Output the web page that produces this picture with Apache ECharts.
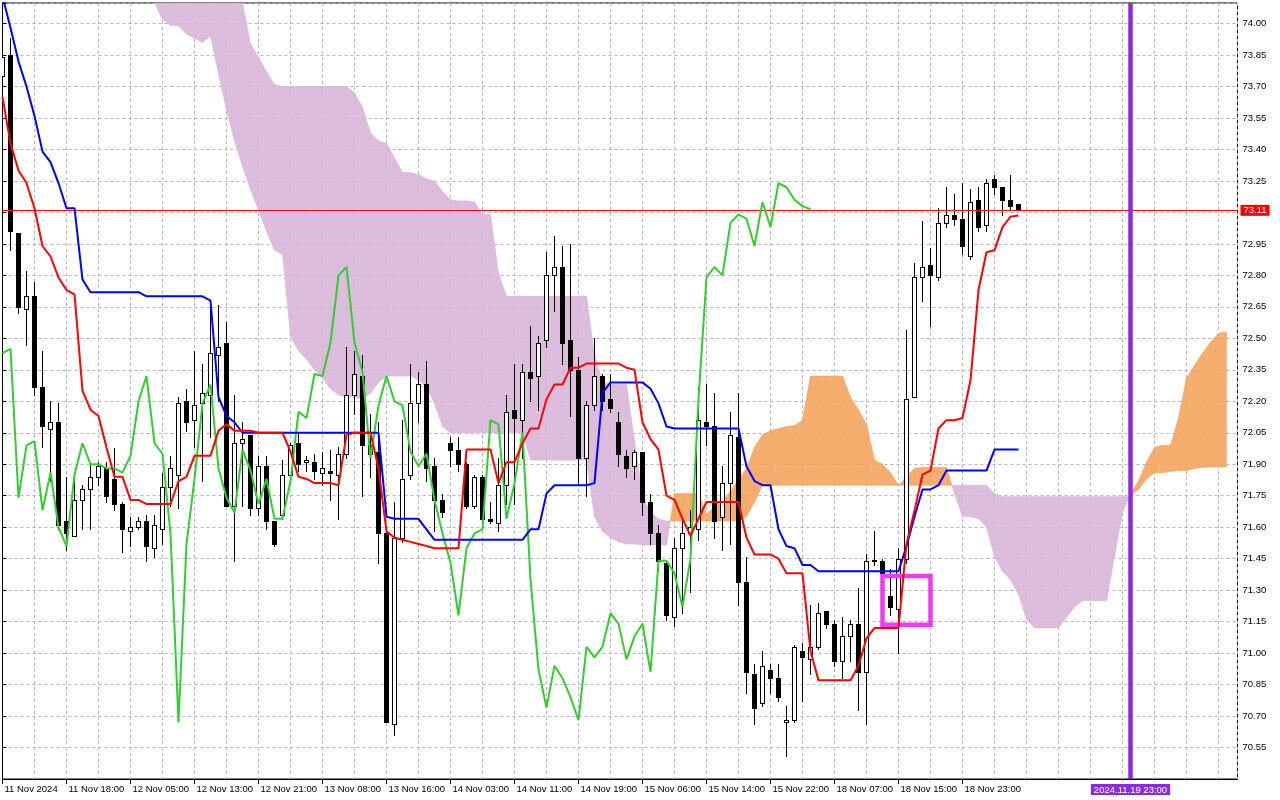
<!DOCTYPE html>
<html><head><meta charset="utf-8">
<script src="https://cdn.jsdelivr.net/npm/echarts@6/dist/echarts.min.js"></script>
<style>html,body{margin:0;padding:0;background:#fff}#c{width:1280px;height:800px}</style>
</head><body><div id="c"></div>
<script>
// ---- x axis labels (every 8 bars) ----
const timeLabels = ["11 Nov 2024","11 Nov 18:00","12 Nov 05:00","12 Nov 13:00","12 Nov 21:00","13 Nov 08:00","13 Nov 16:00","14 Nov 03:00","14 Nov 11:00","14 Nov 19:00","15 Nov 06:00","15 Nov 14:00","15 Nov 22:00","18 Nov 07:00","18 Nov 15:00","18 Nov 23:00"];
const labelStep = 8;
const totalSlots = 154.375;

// ---- candles (H1) ----
const opens = [73.75,73.85,73.00,72.64,72.70,72.27,72.07,72.10,71.63,71.56,
71.73,71.78,71.84,71.88,71.83,71.71,71.58,71.60,71.63,71.50,
71.59,71.79,71.85,72.20,72.11,72.19,72.23,72.42,72.48,71.70,
72.00,72.04,71.69,71.89,71.63,71.66,71.85,72.00,71.91,71.91,
71.86,71.87,71.85,71.95,72.23,72.32,71.99,71.96,71.57,70.66,
71.55,71.85,72.19,72.28,71.89,71.73,72.00,71.97,71.90,71.70,
71.84,71.64,71.62,71.80,72.16,72.11,72.34,72.32,72.49,72.80,
72.84,72.49,72.35,71.93,72.18,72.32,72.21,72.10,71.94,71.89,
71.96,71.72,71.57,71.43,71.17,71.50,71.57,71.59,72.10,72.08,
71.65,71.81,72.03,71.34,70.90,70.76,70.92,70.88,70.67,70.68,
71.01,70.97,71.03,71.20,71.14,70.96,71.08,71.14,70.91,71.44,
71.44,71.27,71.21,71.45,72.22,72.79,72.85,72.79,73.05,73.09,
73.07,72.89,73.16,73.04,73.26,73.22,73.16,73.14];
const highs = [73.90,73.93,73.00,72.82,72.77,72.44,72.20,72.19,71.84,71.86,
71.80,71.91,71.91,71.91,71.975,71.72,71.65,71.65,71.66,71.66,
71.86,71.94,72.22,72.26,72.44,72.38,72.66,72.66,72.58,72.23,
72.10,72.04,71.94,71.94,71.63,71.92,72.00,72.05,71.94,71.95,
71.96,71.97,71.98,72.46,72.44,72.42,72.14,72.10,71.59,71.72,
72.11,72.38,72.34,72.39,71.93,71.76,72.03,72.03,71.91,71.85,
71.85,71.72,71.93,72.23,72.38,72.38,72.56,72.51,72.91,72.99,
72.94,72.95,72.41,72.20,72.50,72.33,72.33,72.15,71.97,71.97,
71.96,71.76,71.61,71.44,71.55,71.64,71.68,72.27,72.28,72.24,
71.89,72.15,72.24,71.46,70.95,71.01,70.95,70.95,70.75,71.04,
71.05,71.23,71.24,71.20,71.16,71.17,71.16,71.31,71.47,71.58,
71.45,71.40,71.50,72.54,72.86,73.06,72.93,73.12,73.22,73.19,
73.24,73.21,73.22,73.26,73.28,73.22,73.28,73.14];
const lows = [73.70,72.92,72.62,72.47,72.23,71.98,71.82,71.59,71.49,71.56,
71.59,71.59,71.80,71.72,71.68,71.48,71.51,71.59,71.44,71.46,
71.52,71.70,71.69,72.06,71.98,71.82,72.03,72.20,71.70,71.44,
71.70,71.66,71.66,71.59,71.51,71.64,71.84,71.87,71.87,71.83,
71.80,71.73,71.64,71.93,72.14,71.75,71.84,71.43,70.67,70.61,
71.53,71.83,72.10,71.82,71.58,71.65,71.89,71.87,71.69,71.69,
71.59,71.62,71.58,71.71,71.71,71.93,72.20,72.16,72.46,72.63,
72.38,72.13,71.80,71.75,72.16,72.16,72.15,71.89,71.84,71.83,
71.66,71.52,71.39,71.16,71.13,71.19,71.29,71.54,71.99,71.55,
71.49,71.52,71.23,70.81,70.66,70.75,70.81,70.77,70.51,70.67,
70.77,70.90,71.02,71.12,70.94,70.88,70.96,70.73,70.66,71.42,
71.37,71.18,71.00,71.43,72.22,72.68,72.56,72.78,73.03,73.04,
72.90,72.88,73.01,73.01,73.19,73.09,73.11,73.11];
const closes = [73.84,73.01,72.65,72.70,72.27,72.08,72.10,71.61,71.57,71.73,
71.78,71.84,71.89,71.75,71.71,71.59,71.60,71.63,71.51,71.61,
71.79,71.88,72.19,72.10,72.18,72.24,72.43,72.46,71.70,72.00,
72.02,71.69,71.89,71.63,71.52,71.85,71.99,71.90,71.92,71.87,
71.88,71.86,71.95,72.23,72.33,71.99,71.95,71.57,70.67,71.55,
71.83,72.19,72.28,71.88,71.73,71.67,71.97,71.90,71.70,71.84,
71.64,71.63,71.80,72.15,72.12,72.34,72.31,72.48,72.80,72.84,
72.48,72.35,71.93,72.18,72.32,72.20,72.17,71.95,71.88,71.96,
71.72,71.57,71.44,71.18,71.50,71.57,71.60,72.11,72.08,71.63,
71.81,72.04,71.34,70.91,70.74,70.94,70.88,70.79,70.68,71.03,
70.98,71.03,71.19,71.14,70.96,71.08,71.14,70.91,71.44,71.445,
71.38,71.22,71.45,72.21,72.79,72.84,72.80,73.05,73.09,73.07,
72.94,73.15,73.03,73.24,73.22,73.16,73.13,73.11];

// ---- Ichimoku lines ----
const tenkan = [73.65,73.43,73.30,73.24,73.12,72.94,72.89,72.79,72.73,72.71,
72.25,72.16,72.13,71.98,71.84,71.84,71.73,71.73,71.71,71.71,
71.71,71.71,71.82,71.84,71.94,71.94,71.94,72.06,72.09,72.06,
72.06,72.06,72.05,72.05,72.05,72.05,71.96,71.84,71.83,71.81,
71.81,71.81,71.80,72.04,72.05,72.05,72.05,71.88,71.58,71.55,
71.54,71.53,71.52,71.51,71.50,71.50,71.50,71.50,71.97,71.97,
71.97,71.97,71.81,71.91,71.91,72.00,72.07,72.07,72.21,72.28,
72.28,72.36,72.36,72.38,72.38,72.38,72.38,72.38,72.36,72.35,
72.10,72.02,71.97,71.75,71.73,71.64,71.56,71.64,71.72,71.72,
71.72,71.72,71.72,71.55,71.47,71.47,71.47,71.45,71.38,71.38,
71.38,71.01,70.87,70.87,70.87,70.87,70.87,70.94,71.07,71.12,
71.12,71.12,71.12,71.52,71.68,71.85,71.87,72.07,72.11,72.11,
72.12,72.30,72.73,72.91,72.92,73.03,73.08,73.085];
const kijun = [74.13,73.98,73.82,73.70,73.56,73.39,73.34,73.24,73.12,73.12,
72.78,72.72,72.72,72.72,72.72,72.72,72.72,72.72,72.70,72.70,
72.70,72.70,72.70,72.70,72.70,72.70,72.68,72.22,72.13,72.10,
72.05,72.05,72.05,72.05,72.05,72.05,72.05,72.05,72.05,72.05,
72.05,72.05,72.05,72.05,72.05,72.05,72.05,72.05,71.65,71.64,
71.64,71.64,71.64,71.59,71.54,71.54,71.54,71.54,71.54,71.54,
71.54,71.54,71.54,71.54,71.54,71.54,71.59,71.59,71.76,71.80,
71.80,71.80,71.80,71.80,71.81,72.24,72.29,72.29,72.29,72.29,
72.29,72.26,72.19,72.08,72.07,72.07,72.07,72.07,72.07,72.07,
72.07,72.07,72.07,71.89,71.82,71.80,71.80,71.59,71.51,71.50,
71.42,71.42,71.39,71.39,71.39,71.39,71.39,71.39,71.39,71.39,
71.39,71.39,71.39,71.51,71.65,71.78,71.78,71.80,71.87,71.87,
71.87,71.87,71.87,71.87,71.97,71.97,71.97,71.97];
const chikou = [72.43,72.45,71.74,71.99,72.01,71.68,71.86,71.60,71.51,71.85,
72.00,71.90,71.90,71.88,71.88,71.86,71.94,72.20,72.32,72.00,
71.95,71.57,70.67,71.52,71.83,72.19,72.28,71.88,71.74,71.67,
71.97,71.87,71.71,71.83,71.64,71.64,71.82,72.15,72.12,72.33,
72.32,72.48,72.80,72.84,72.48,72.34,71.93,72.18,72.32,72.20,
72.18,71.96,71.89,71.95,71.73,71.57,71.43,71.18,71.50,71.57,
71.59,72.11,72.09,71.64,71.81,72.05,71.35,70.92,70.74,70.94,
70.88,70.79,70.68,71.03,70.98,71.03,71.19,71.14,70.97,71.08,
71.14,70.91,71.44,71.44,71.38,71.22,71.45,72.21,72.79,72.84,
72.80,73.05,73.09,73.07,72.94,73.15,73.03,73.24,73.22,73.16,
73.13,73.115];

// ---- cloud (Senkou A / B), starting at bar 18 ----
const cloudStart = 18;
const senkouA = [74.20,74.10,74.02,73.99,73.99,73.95,73.93,73.91,73.94,73.76,
73.59,73.44,73.32,73.21,73.11,73.01,72.92,72.90,72.51,72.44,
72.40,72.35,72.31,72.26,72.23,72.22,72.22,72.21,72.24,72.29,
72.32,72.32,72.32,72.32,72.30,72.27,72.19,72.08,72.05,72.05,
72.05,72.05,72.05,72.05,72.05,72.05,72.05,72.05,71.92,71.92,
71.92,71.92,71.92,71.92,71.92,71.92,71.65,71.58,71.55,71.53,
71.52,71.52,71.515,71.515,71.515,71.515,71.76,71.76,71.76,71.76,
71.66,71.70,71.73,71.77,71.83,71.88,71.98,72.04,72.06,72.07,
72.08,72.085,72.11,72.32,72.32,72.32,72.32,72.32,72.22,72.16,
72.09,71.92,71.90,71.86,71.80,71.84,71.88,71.885,71.885,71.885,
71.885,71.76,71.65,71.65,71.64,71.60,71.46,71.39,71.35,71.28,
71.16,71.12,71.12,71.12,71.12,71.17,71.22,71.25,71.25,71.25,
71.25,71.46,71.67,71.76,71.82,71.91,71.98,71.99,71.99,72.12,
72.31,72.37,72.43,72.48,72.525,72.53];
const senkouB = [74.30,74.30,74.30,74.30,74.30,74.30,74.30,74.30,74.30,74.30,
74.30,74.30,74.10,73.905,73.84,73.77,73.71,73.70,73.70,73.70,
73.70,73.70,73.70,73.70,73.70,73.70,73.67,73.60,73.48,73.44,
73.43,73.36,73.29,73.29,73.28,73.26,73.25,73.20,73.16,73.155,
73.155,73.15,73.09,73.09,72.81,72.70,72.70,72.70,72.70,72.70,
72.70,72.70,72.70,72.70,72.70,72.70,72.42,72.29,72.28,72.28,
72.28,72.01,71.75,71.67,71.64,71.63,71.63,71.63,71.63,71.63,
71.63,71.63,71.63,71.63,71.63,71.65,71.72,71.80,71.80,71.80,
71.80,71.80,71.80,71.80,71.80,71.80,71.80,71.80,71.80,71.80,
71.80,71.80,71.80,71.80,71.80,71.80,71.80,71.80,71.80,71.80,
71.80,71.80,71.80,71.80,71.80,71.80,71.76,71.745,71.745,71.745,
71.745,71.745,71.745,71.745,71.745,71.745,71.745,71.745,71.745,71.745,
71.745,71.745,71.745,71.75,71.78,71.83,71.86,71.86,71.865,71.87,
71.87,71.88,71.885,71.887,71.887,71.887];

// ---- annotations ----
const lastPrice = 73.11;
const markerBar = 141;
const markerLabel = '2024.11.19 23:00';
const boxBars = [110, 116];
const boxPrices = [71.135, 71.367];

const PINK = '#d8b6d8', ORANGE = '#f4a460';
const GRIDC = '#bab0bd';
const FONT = 'Liberation Sans, Arial, sans-serif';

const candleData = opens.map((o, i) => [i, o, highs[i], lows[i], closes[i]]);
const cloudSegs = [];
for (let i = 0; i < senkouA.length - 1; i++) {
  cloudSegs.push([cloudStart + i, senkouA[i], senkouB[i], senkouA[i + 1], senkouB[i + 1]]);
}
const labelTicks = timeLabels.map((_, i) => i * labelStep);

function renderCandle(params, api) {
  const i = api.value(0), o = api.value(1), h = api.value(2), l = api.value(3), c = api.value(4);
  const pO = api.coord([i, o]), pC = api.coord([i, c]), pH = api.coord([i, h]), pL = api.coord([i, l]);
  const xc = Math.floor(pO[0]);
  const yH = Math.round(pH[1]), yL = Math.round(pL[1]);
  const yT = Math.round(Math.min(pO[1], pC[1])), yB = Math.round(Math.max(pO[1], pC[1]));
  const bh = yB - yT;
  const ch = [
    {type: 'rect', shape: {x: xc, y: yH, width: 1, height: Math.max(1, yL - yH + 1)}, style: {fill: '#000'}},
    {type: 'rect', shape: {x: xc - 2, y: yT, width: 5, height: bh + 1}, style: {fill: '#000'}}
  ];
  if (c >= o && bh >= 2) ch.push({type: 'rect', shape: {x: xc - 1, y: yT + 1, width: 3, height: bh - 1}, style: {fill: '#fff'}});
  return {type: 'group', children: ch};
}

function renderCloud(params, api) {
  const k = api.value(0), a0 = api.value(1), b0 = api.value(2), a1 = api.value(3), b1 = api.value(4);
  const d0 = a0 - b0, d1 = a1 - b1;
  const poly = (pts, up) => ({
    type: 'polygon',
    shape: {points: pts.map(p => api.coord(p))},
    style: {fill: up ? ORANGE : PINK, stroke: up ? ORANGE : PINK, lineWidth: 0.7, opacity: 0.9}
  });
  const ch = [];
  if (d0 * d1 < 0) {
    const t = d0 / (d0 - d1);
    const xm = k + t, ym = a0 + t * (a1 - a0);
    ch.push(poly([[k, a0], [xm, ym], [k, b0]], d0 > 0));
    ch.push(poly([[xm, ym], [k + 1, a1], [k + 1, b1]], d1 > 0));
  } else {
    ch.push(poly([[k, a0], [k + 1, a1], [k + 1, b1], [k, b0]], (d0 + d1) > 0));
  }
  return {type: 'group', children: ch};
}

const chart = echarts.init(document.getElementById('c'), null, {renderer: 'canvas', width: 1280, height: 800});
chart.setOption({
  animation: false,
  backgroundColor: '#ffffff',
  textStyle: {fontFamily: FONT},
  grid: {left: 2.5, right: 42.5, top: 3, bottom: 21, show: true, borderColor: '#000', borderWidth: 1, backgroundColor: '#fff', containLabel: false, outerBoundsMode: 'none'},
  xAxis: [
    {type: 'value', position: 'top', min: 0, max: totalSlots, interval: 4,
     axisLine: {show: false}, axisTick: {show: false}, axisLabel: {show: false},
     splitLine: {show: true, lineStyle: {color: GRIDC, type: [3, 3], width: 1}}},
    {type: 'value', position: 'bottom', min: 0, max: totalSlots, interval: labelStep,
     axisLine: {show: true, lineStyle: {color: '#000', width: 1}},
     axisTick: {show: true, length: 5, lineStyle: {color: '#000'}, customValues: labelTicks},
     splitLine: {show: false},
     axisLabel: {show: true, customValues: labelTicks, color: '#000', fontSize: 9.5, fontFamily: FONT, align: 'left', margin: 5, padding: [0, 0, 0, 2], showMinLabel: true, hideOverlap: false,
       formatter: v => { const r = Math.round(v); if (Math.abs(v - r) > 1e-6 || r % labelStep) return ''; const idx = r / labelStep; return idx < timeLabels.length ? timeLabels[idx] : ''; }}}
  ],
  yAxis: {type: 'value', position: 'right', min: 70.40, max: 74.098, interval: 0.15,
    axisLine: {show: true, lineStyle: {color: '#000', width: 1}},
    axisTick: {show: true, length: 4, lineStyle: {color: '#000'}},
    axisLabel: {color: '#000', fontSize: 9.5, fontFamily: FONT, margin: 5, showMinLabel: true, showMaxLabel: true,
      formatter: v => (v > 70.5 && v < 74.05) ? v.toFixed(2) : ''},
    splitLine: {show: true, lineStyle: {color: GRIDC, type: [3, 3], width: 1}}},
  series: [
    {type: 'custom', name: 'Cloud', xAxisIndex: 0, data: cloudSegs, renderItem: renderCloud, clip: true, silent: true, z: 1},
    {type: 'custom', name: 'Price', xAxisIndex: 0, data: candleData, renderItem: renderCandle, clip: true, silent: true, z: 2},
    {type: 'custom', name: 'Box', xAxisIndex: 0, data: [[boxBars[0], boxPrices[0], boxBars[1], boxPrices[1]]], clip: true, silent: true, z: 4,
     renderItem: (p, api) => { const a = api.coord([api.value(0), api.value(1)]), b = api.coord([api.value(2), api.value(3)]);
       return {type: 'rect', shape: {x: Math.min(a[0], b[0]), y: Math.min(a[1], b[1]), width: Math.abs(b[0] - a[0]), height: Math.abs(b[1] - a[1])}, style: {fill: 'none', stroke: '#f03cf0', lineWidth: 4.5}}; }},
    {type: 'line', name: 'Chikou', xAxisIndex: 0, data: chikou.map((v, i) => [i, v]), symbol: 'none', lineStyle: {color: '#32cd32', width: 2}, clip: true, silent: true, z: 5},
    {type: 'line', name: 'Kijun', xAxisIndex: 0, data: kijun.map((v, i) => [i, v]), symbol: 'none', lineStyle: {color: '#0000ff', width: 2}, clip: true, silent: true, z: 5},
    {type: 'line', name: 'Tenkan', xAxisIndex: 0, data: tenkan.map((v, i) => [i, v]), symbol: 'none', lineStyle: {color: '#ff0000', width: 2}, clip: true, silent: true, z: 6,
     markLine: {silent: true, symbol: ['none', 'none'], animation: false,
       data: [
         {yAxis: lastPrice, lineStyle: {color: '#ff0000', width: 1, type: 'solid'},
          label: {show: true, position: 'end', formatter: lastPrice.toFixed(2), color: '#fff', backgroundColor: '#ff0000', padding: [1, 3, 0, 3], fontSize: 9.5, fontFamily: FONT, distance: 3}},
         {xAxis: markerBar, lineStyle: {color: '#8a2be2', width: 4.5, type: 'solid'},
          label: {show: true, position: 'start', formatter: markerLabel, color: '#fff', backgroundColor: '#8a2be2', padding: [1, 3, 0, 3], fontSize: 9.5, fontFamily: FONT, distance: 5}}
       ]}}
  ]
});
</script>
</body></html>
